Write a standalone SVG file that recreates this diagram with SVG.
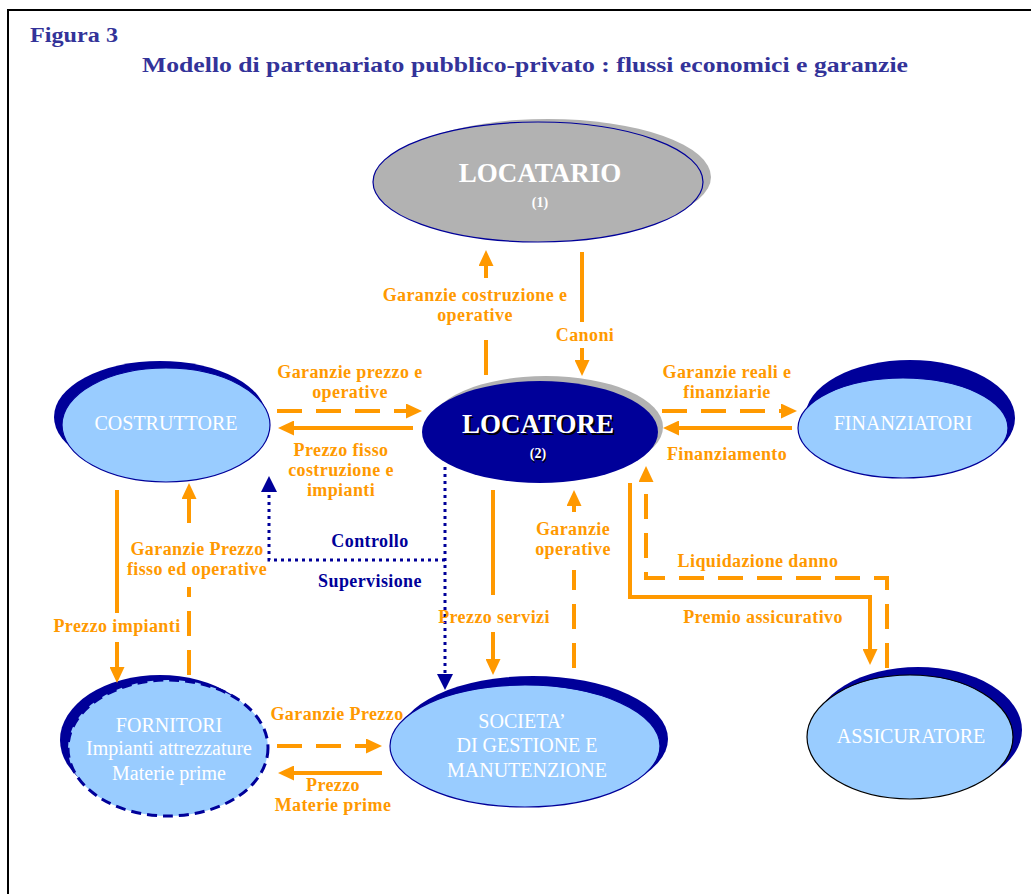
<svg xmlns="http://www.w3.org/2000/svg" width="1031" height="894" viewBox="0 0 1031 894">
<style>
.lbl{font-family:"Liberation Serif",serif;font-weight:bold;font-size:18px;letter-spacing:0.4px;fill:#FF9900;text-anchor:middle}
.nv{fill:#000099}
.node{font-family:"Liberation Serif",serif;font-size:20px;fill:#FFFFFF;text-anchor:middle}
.big{font-family:"Liberation Serif",serif;font-weight:bold;font-size:27px;fill:#FFFFFF;text-anchor:middle}
.small{font-family:"Liberation Serif",serif;font-weight:bold;font-size:14px;fill:#FFFFFF;text-anchor:middle}
.title{font-family:"Liberation Serif",serif;font-weight:bold;fill:#333399}
.o{fill:none;stroke:#FF9900;stroke-width:4}
.od{fill:none;stroke:#FF9900;stroke-width:4;stroke-dasharray:25 14}
.dot{fill:none;stroke:#000099;stroke-width:3;stroke-dasharray:3 4}
.lb{fill:#99CCFF}
.dk{fill:#000099}
</style>
<defs>
<marker id="ao" viewBox="0 0 16 15" refX="1" refY="7.5" markerWidth="16" markerHeight="15" markerUnits="userSpaceOnUse" orient="auto"><path d="M0,0 L16,7.5 L0,15 z" fill="#FF9900"/></marker>
<marker id="an" viewBox="0 0 16 16" refX="1" refY="8" markerWidth="16" markerHeight="16" markerUnits="userSpaceOnUse" orient="auto"><path d="M0,0 L16,8 L0,16 z" fill="#000099"/></marker>
</defs>
<rect x="0" y="0" width="1031" height="894" fill="#FFFFFF"/>
<rect x="8" y="10" width="1100" height="1000" fill="none" stroke="#000" stroke-width="2"/>
<text class="title" x="30" y="42" font-size="20" textLength="88" lengthAdjust="spacingAndGlyphs">Figura 3</text>
<text class="title" x="142" y="72" font-size="21" textLength="766" lengthAdjust="spacingAndGlyphs">Modello di partenariato pubblico-privato : flussi economici e garanzie</text>

<g id="locatario">
<ellipse cx="548" cy="177" rx="163" ry="58" fill="#B2B2B2"/>
<ellipse cx="538" cy="182" rx="165" ry="60" fill="#B2B2B2" stroke="#000099" stroke-width="1.2"/>
<text class="big" x="540" y="182">LOCATARIO</text>
<text class="small" x="540" y="207">(1)</text>
</g>

<g id="locatore">
<ellipse cx="546" cy="427" rx="117" ry="51" fill="#B2B2B2"/>
<ellipse cx="540" cy="432" rx="118" ry="51" class="dk"/>
<text class="big" x="540" y="435" style="fill:#000">LOCATORE</text>
<text class="big" x="538" y="433">LOCATORE</text>
<text class="small" x="539" y="460" style="fill:#000">(2)</text>
<text class="small" x="538" y="458">(2)</text>
</g>

<g id="costruttore">
<ellipse cx="160" cy="417" rx="106" ry="56" class="dk"/>
<ellipse cx="166" cy="425" rx="104" ry="57" class="lb" stroke="#000099" stroke-width="1.2"/>
<text class="node" x="166" y="430">COSTRUTTORE</text>
</g>

<g id="finanziatori">
<ellipse cx="910" cy="418" rx="105" ry="58" class="dk"/>
<ellipse cx="903" cy="428" rx="105" ry="50" class="lb" stroke="#000099" stroke-width="1.2"/>
<text class="node" x="903" y="430">FINANZIATORI</text>
</g>

<g id="fornitori">
<ellipse cx="160" cy="740" rx="100" ry="65" class="dk"/>
<ellipse cx="168" cy="748" rx="100" ry="68" class="lb" stroke="#000099" stroke-width="3" stroke-dasharray="10 6"/>
<text class="node" x="169" y="732">FORNITORI</text>
<text class="node" x="169" y="755">Impianti attrezzature</text>
<text class="node" x="169" y="780">Materie prime</text>
</g>

<g id="societa">
<ellipse cx="533" cy="739" rx="135" ry="63" class="dk"/>
<ellipse cx="525" cy="746" rx="135" ry="61" class="lb" stroke="#000099" stroke-width="1.2"/>
<text class="node" x="522" y="728">SOCIETA’</text>
<text class="node" x="527" y="752">DI GESTIONE E</text>
<text class="node" x="527" y="777">MANUTENZIONE</text>
</g>

<g id="assicuratore">
<ellipse cx="918" cy="730" rx="104" ry="63" class="dk"/>
<ellipse cx="910" cy="737" rx="103" ry="62" class="lb" stroke="#000" stroke-width="1.2"/>
<text class="node" x="911" y="743">ASSICURATORE</text>
</g>

<g id="connectors">
<line class="o" x1="486" y1="375" x2="486" y2="340"/>
<line class="o" x1="486" y1="278" x2="486" y2="265" marker-end="url(#ao)"/>
<line class="o" x1="582" y1="252" x2="582" y2="322"/>
<line class="o" x1="582" y1="348" x2="582" y2="361" marker-end="url(#ao)"/>
<line class="od" x1="277" y1="411" x2="407" y2="411" marker-end="url(#ao)"/>
<line class="o" x1="413" y1="428" x2="293" y2="428" marker-end="url(#ao)"/>
<line class="od" x1="662" y1="411" x2="782" y2="411" marker-end="url(#ao)"/>
<line class="o" x1="792" y1="428" x2="678" y2="428" marker-end="url(#ao)"/>
<path class="dot" d="M445,467 L445,675" marker-end="url(#an)"/>
<path class="dot" d="M445,560 L269,560 L269,491" marker-end="url(#an)"/>
<line class="o" x1="493" y1="490" x2="493" y2="595"/>
<line class="o" x1="493" y1="632" x2="493" y2="660" marker-end="url(#ao)"/>
<line class="od" x1="574" y1="668" x2="574" y2="570"/>
<line class="o" x1="574" y1="512" x2="574" y2="505" marker-end="url(#ao)"/>
<path class="o" d="M630,483 L630,597 L870,597 L870,650" marker-end="url(#ao)"/>
<path class="od" d="M887,668 L887,578 L646,578 L646,481" marker-end="url(#ao)"/>
<line class="o" x1="117" y1="490" x2="117" y2="613"/>
<line class="o" x1="117" y1="642" x2="117" y2="668" marker-end="url(#ao)"/>
<line class="od" x1="189" y1="675" x2="189" y2="587"/>
<line class="o" x1="189" y1="523" x2="189" y2="498" marker-end="url(#ao)"/>
<line class="od" x1="277" y1="746" x2="367" y2="746" marker-end="url(#ao)"/>
<line class="o" x1="382" y1="773" x2="293" y2="773" marker-end="url(#ao)"/>
</g>

<g id="labels">
<text class="lbl" x="475" y="301">Garanzie costruzione e</text>
<text class="lbl" x="475" y="321">operative</text>
<text class="lbl" x="585" y="341">Canoni</text>
<text class="lbl" x="350" y="378">Garanzie prezzo e</text>
<text class="lbl" x="350" y="398">operative</text>
<text class="lbl" x="341" y="456">Prezzo fisso</text>
<text class="lbl" x="341" y="476">costruzione e</text>
<text class="lbl" x="341" y="496">impianti</text>
<text class="lbl" x="727" y="378">Garanzie reali e</text>
<text class="lbl" x="727" y="398">finanziarie</text>
<text class="lbl" x="727" y="460">Finanziamento</text>
<text class="lbl nv" x="370" y="547">Controllo</text>
<text class="lbl nv" x="370" y="587">Supervisione</text>
<text class="lbl" x="494" y="623">Prezzo servizi</text>
<text class="lbl" x="573" y="535">Garanzie</text>
<text class="lbl" x="573" y="555">operative</text>
<text class="lbl" x="758" y="567">Liquidazione danno</text>
<text class="lbl" x="763" y="623">Premio assicurativo</text>
<text class="lbl" x="117" y="632">Prezzo impianti</text>
<text class="lbl" x="197" y="555">Garanzie Prezzo</text>
<text class="lbl" x="197" y="575">fisso ed operative</text>
<text class="lbl" x="337" y="720">Garanzie Prezzo</text>
<text class="lbl" x="333" y="791">Prezzo</text>
<text class="lbl" x="333" y="811">Materie prime</text>
</g>
</svg>
